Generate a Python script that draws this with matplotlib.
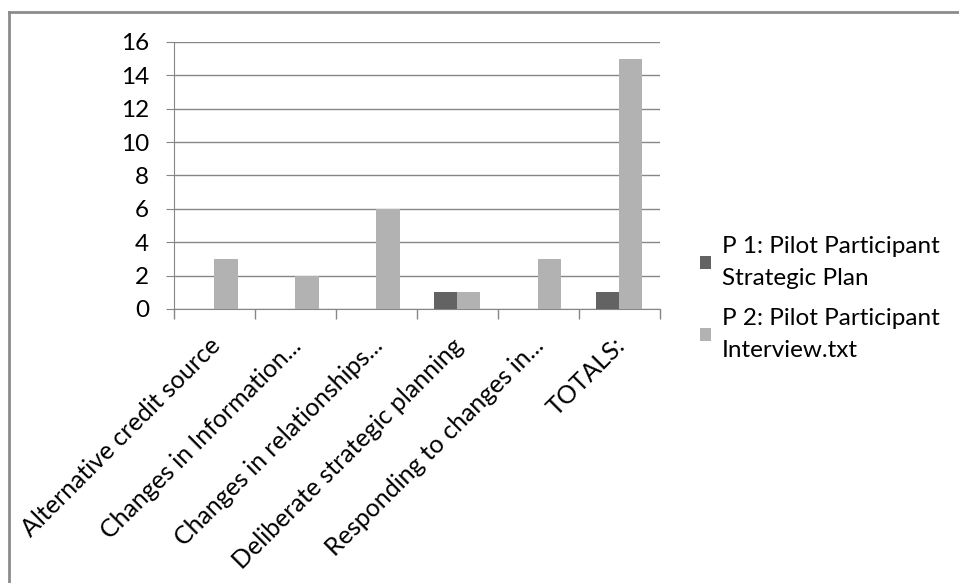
import matplotlib
matplotlib.use('Agg')
import matplotlib.pyplot as plt
import matplotlib.transforms as mtransforms
import numpy as np
from matplotlib.lines import Line2D

# Data
categories = ['Alternative credit source', 'Changes in Information...',
              'Changes in relationships...', 'Deliberate strategic planning',
              'Responding to changes in...', 'TOTALS:']
p1_strategic_plan = [0, 0, 0, 1, 0, 1]
p2_interview = [3, 2, 6, 1, 3, 15]
series_names = ['P 1: Pilot Participant\nStrategic Plan',
                'P 2: Pilot Participant\nInterview.txt']
y_ticks = [0, 2, 4, 6, 8, 10, 12, 14, 16]

plt.rcParams['font.family'] = ['Lato', 'DejaVu Sans']

fig = plt.figure(figsize=(9.59, 5.83), dpi=100)
ax = fig.add_axes([0.1814, 0.470, 0.5066, 0.458])

x = np.arange(len(categories))
w = 1 / 3.5  # excel gap width 150%
ax.bar(x - w / 2, p1_strategic_plan, w, color='#636363', label=series_names[0], zorder=3)
ax.bar(x + w / 2, p2_interview, w, color='#b2b2b2', label=series_names[1], zorder=3)

ax.set_xlim(-0.5, len(categories) - 0.5)
ax.set_ylim(0, 16)
ax.set_yticks(y_ticks)
ax.yaxis.grid(True, color='#868686', linewidth=1, zorder=0)
ax.tick_params(axis='y', labelsize=17.5, length=6, color='#868686', pad=12)

# category labels at centres, ticks at boundaries
ax.set_xticks(x)
ax.set_xticklabels(categories, rotation=45, ha='right', va='top',
                   rotation_mode='anchor', fontsize=18)
ax.tick_params(axis='x', length=0, pad=18)
shift = mtransforms.ScaledTranslation(-6 / 100, 0, fig.dpi_scale_trans)
for lbl in ax.get_xticklabels():
    lbl.set_transform(lbl.get_transform() + shift)
ax.set_xticks(np.arange(len(categories) + 1) - 0.5, minor=True)
ax.tick_params(axis='x', which='minor', length=7, color='#868686', width=1)

for s in ['top', 'right']:
    ax.spines[s].set_visible(False)
ax.spines['left'].set_color('#868686')
ax.spines['bottom'].set_color('#868686')

leg = ax.legend(loc='center left', bbox_to_anchor=(0.717, 0.488),
                bbox_transform=fig.transFigure, frameon=False, fontsize=17.5,
                handlelength=0.45, handleheight=0.45, handletextpad=0.45,
                labelspacing=0.8, borderpad=0)
for t in leg.get_texts():
    t.set_linespacing(1.62)

# chart frame (only top and left edges are visible)
fig.add_artist(Line2D([0.0094, 0.0094], [0, 0.9786], color='#8c8c8c', linewidth=2,
                      transform=fig.transFigure))
fig.add_artist(Line2D([0.0094, 1], [0.9786, 0.9786], color='#8c8c8c', linewidth=2,
                      transform=fig.transFigure))

fig.savefig('out.png', dpi=100)
